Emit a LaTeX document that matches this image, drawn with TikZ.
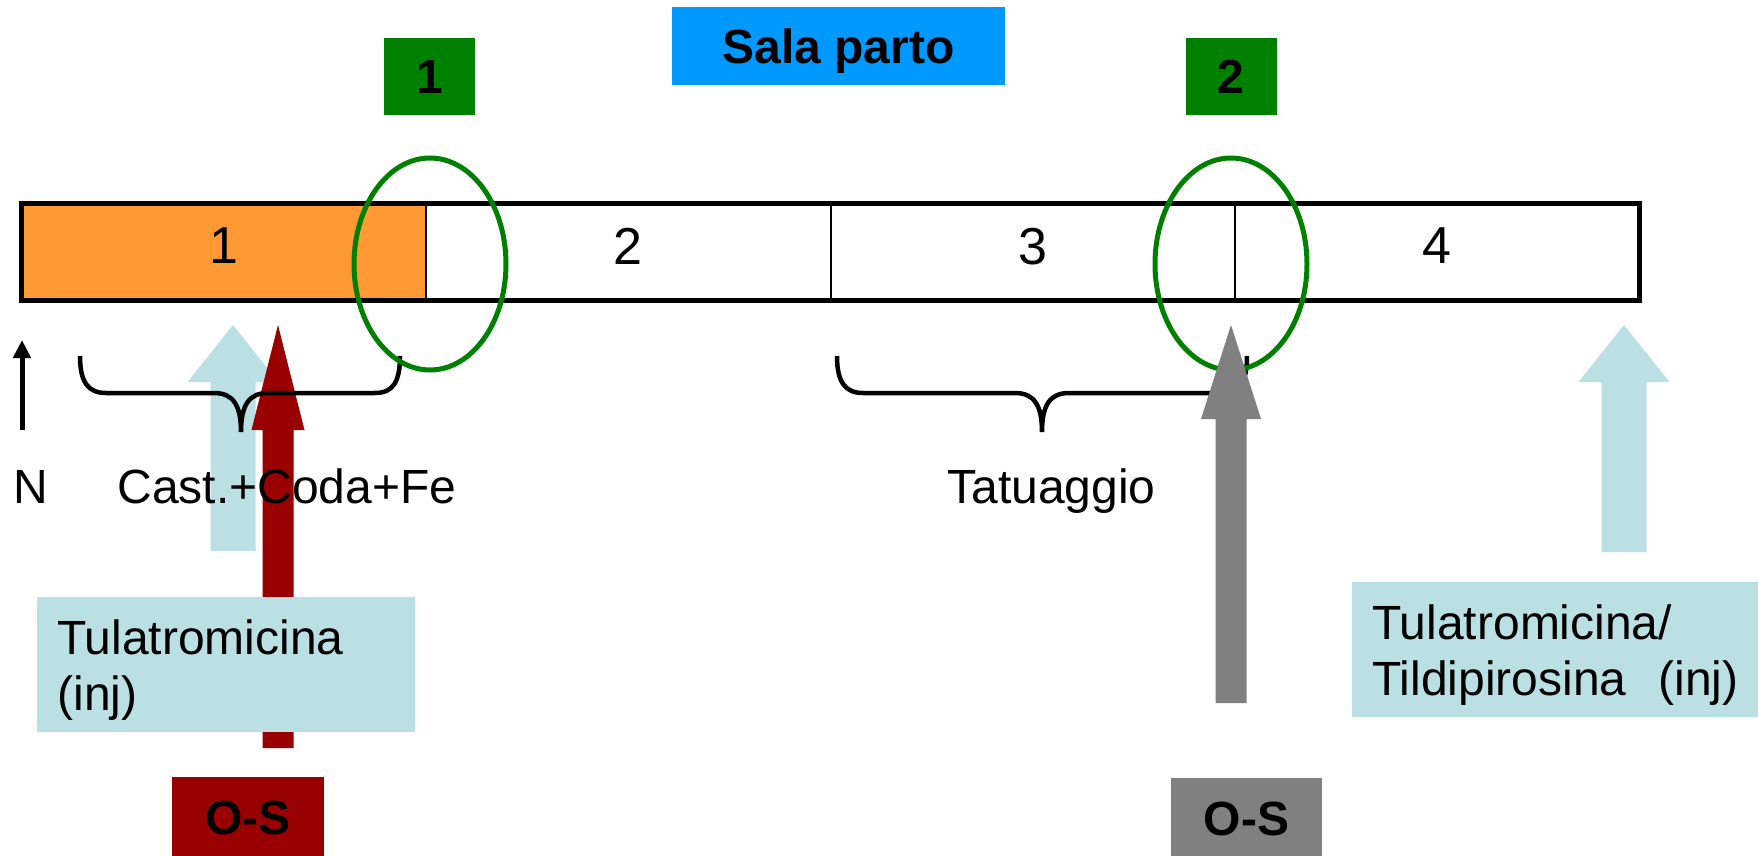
\documentclass[tikz,border=0pt]{standalone}
\usepackage{fontspec}
\setmainfont{Liberation Sans}
\usetikzlibrary{positioning, arrows.meta}

\definecolor{barorange}{HTML}{FF9933}
\definecolor{markgreen}{HTML}{008000}
\definecolor{salablue}{HTML}{0099FF}
\definecolor{drugblue}{HTML}{BBE0E3}
\definecolor{osred}{HTML}{990000}
\definecolor{osgray}{HTML}{808080}

% block arrow pointing up: colour, x, tip, head base, foot, head half, shaft half
\newcommand{\blockup}[7]{%
  \fill[#1] ({#2-#7},#5) -- ({#2-#7},#4) -- ({#2-#6},#4) -- (#2,#3)
    -- ({#2+#6},#4) -- ({#2+#7},#4) -- ({#2+#7},#5) -- cycle;}

\begin{document}
\begin{tikzpicture}[
    x=0.5pt, y=-0.5pt,
    txt/.style={font=\fontsize{24}{28}\selectfont, inner sep=0pt},
    boldbox/.style={font=\bfseries\fontsize{24}{28}\selectfont, text depth=0pt, inner sep=0pt},
    seg/.style={draw, line width=1pt, minimum width=202.25pt, minimum height=48pt,
                inner sep=0pt, outer sep=0pt, text depth=6pt, font=\fontsize{26}{30}\selectfont},
    numbox/.style={boldbox, fill=markgreen, minimum width=45.5pt, minimum height=38.5pt},
    osbox/.style={boldbox, minimum height=41pt},
    drugbox/.style={fill=drugblue, minimum height=67.5pt, inner xsep=10pt, inner ysep=0pt,
                    text height=23pt, align=left, font=\fontsize{24}{28}\selectfont},
    ring/.style={draw=markgreen, line width=2.5pt},
    curly/.style={draw, line width=2.25pt}
]
   \useasboundingbox (0,0) rectangle (1758,856);

   % Bar
   \node[seg, fill=barorange] (seg1) at (223.75,252) {1};
   \node[seg, right=0pt of seg1] (seg2) {2};
   \node[seg, right=0pt of seg2] (seg3) {3};
   \node[seg, right=0pt of seg3] (seg4) {4};
   \draw[line width=2.5pt] (seg1.north west) rectangle (seg4.south east);

   % Labels on top
   \node[boldbox, fill=salablue, minimum width=166.5pt, minimum height=39pt] (sala) at (838.5,46) {Sala parto};
   \node[numbox] (mark1) at (429.5,76.5) {1};
   \node[numbox] (mark2) at (1231,76.5) {2};

   % Arrows
   \blockup{drugblue}{233}{325}{382}{551}{45.5}{22.5}
   \blockup{drugblue}{1624}{325}{382}{552}{45.5}{22.5}
   \blockup{osred}{278}{325}{430}{748}{26.5}{15.5}

   % Braces
   \draw[curly] (80,356) .. controls (80,382) and (88,393) .. (106,393) -- (214,393)
      .. controls (233,393) and (241,405) .. (241,432)
      .. controls (241,405) and (249,393) .. (268,393) -- (375,393)
      .. controls (393,393) and (400,382) .. (400,356);
   \draw[curly] (837,356) .. controls (837,382) and (845,393) .. (863,393) -- (1015,393)
      .. controls (1034,393) and (1042,405) .. (1042,432)
      .. controls (1042,405) and (1050,393) .. (1069,393) -- (1221,393)
      .. controls (1240,393) and (1247,382) .. (1247,356);

   % Circles
   \draw[ring] (430,264) ellipse [x radius=38pt, y radius=53pt];
   \draw[ring] (1231,264) ellipse [x radius=38pt, y radius=53pt];

   \blockup{osgray}{1231}{325}{419}{703}{30}{15.5}

   % Drugs
   \node[drugbox, anchor=north west, minimum width=189pt, text width=169pt] (tulaL) at (37,597) {Tulatromicina\\(inj)};
   \node[drugbox, anchor=north west, minimum width=210pt, text width=190pt] (tulaR) at (1352,582) {Tulatromicina/\\Tildipirosina\ \ (inj)};

   \node[osbox, fill=osred, minimum width=76pt] (osL) at (248,818) {O-S};
   \node[osbox, fill=osgray, minimum width=75.5pt] (osR) at (1246.5,819) {O-S};

   % Text
   \node[txt, anchor=base west] (nlab) at (13,503) {N};
   \node[txt, anchor=base west] (cast) at (117,503) {Cast.+Coda+Fe};
   \node[txt, anchor=base west] (tatu) at (947,503) {Tatuaggio};

   \coordinate (nfoot) at (22,430);
   \coordinate (ntip) at (22,340);
   \draw[-{Triangle[length=9pt,width=8.5pt]}, line width=2.5pt] (nfoot) -- (ntip);
\end{tikzpicture}
\end{document}
